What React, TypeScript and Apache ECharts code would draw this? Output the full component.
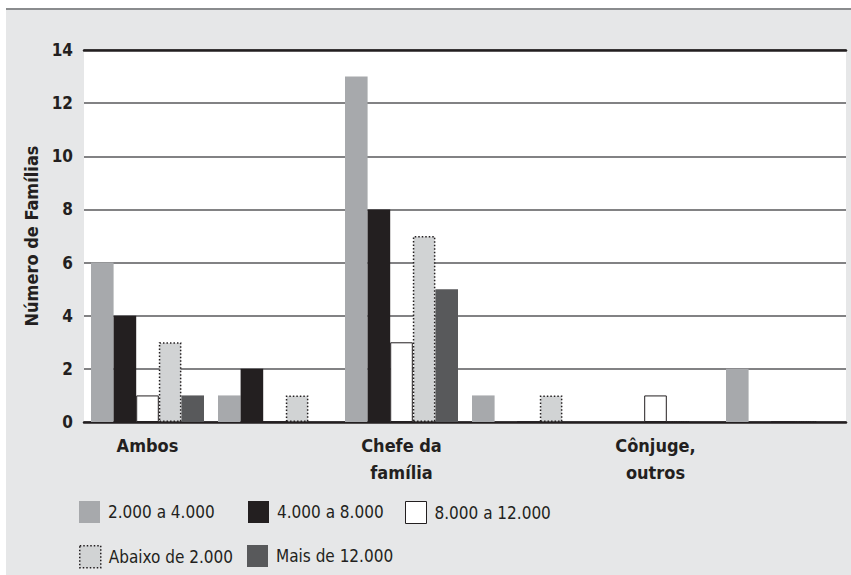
import React, { useEffect, useRef } from "react";
import * as echarts from "echarts";

// Category tick labels (6 slots; every other one unlabeled, as in the source figure)
const categoryLabels = ["Ambos", "", "Chefe da\nfamília", "", "Cônjuge,\noutros", ""];

// Series names
const seriesNames = ["2.000 a 4.000", "4.000 a 8.000", "8.000 a 12.000", "Abaixo de 2.000", "Mais de 12.000"];

// Series values (Número de Famílias)
const v2a4 = [6, 1, 13, 1, 0, 2];
const v4a8 = [4, 2, 8, 0, 0, 0];
const v8a12 = [1, 0, 3, 0, 1, 0];
const vAbaixo2 = [3, 1, 7, 1, 0, 0];
const vMais12 = [1, 0, 5, 0, 0, 0];

const yTicks = { min: 0, max: 14, interval: 2 };

const FONT = "'DejaVu Sans Condensed', 'Liberation Sans', sans-serif";
const INK = "#231f20";

export default function App() {
  const ref = useRef<HTMLDivElement>(null);

  useEffect(() => {
    if (!ref.current) return;
    const chart = echarts.init(ref.current, undefined, { renderer: "svg" });

    const styles: any[] = [
      { color: "#a7a9ac" },
      { color: INK },
      { color: "#ffffff", borderColor: INK, borderWidth: 1 },
      { color: "#d1d3d4", borderColor: INK, borderWidth: 1.5, borderType: [1.5, 2] },
      { color: "#58595b" },
    ];
    const values = [v2a4, v4a8, v8a12, vAbaixo2, vMais12];

    const legendPos = [
      { left: 79, top: 501 },
      { left: 248, top: 501 },
      { left: 405, top: 501 },
      { left: 79, top: 545 },
      { left: 247, top: 545 },
    ];

    chart.setOption({
      animation: false,
      textStyle: { fontFamily: FONT },
      grid: {
        left: 84,
        right: 5,
        top: 50,
        bottom: 153,
        show: true,
        backgroundColor: "#ffffff",
        borderWidth: 0,
      },
      xAxis: [
        {
          type: "category",
          data: categoryLabels,
          axisLine: { show: true, lineStyle: { color: INK, width: 2.5 } },
          axisTick: { show: false },
          axisLabel: {
            interval: 0,
            margin: 10,
            color: INK,
            fontFamily: FONT,
            fontSize: 18,
            fontWeight: "bold",
            lineHeight: 27,
          },
          splitLine: { show: false },
        },
        {
          type: "category",
          data: categoryLabels,
          position: "top",
          axisLine: { show: true, lineStyle: { color: INK, width: 2.5 } },
          axisTick: { show: false },
          axisLabel: { show: false },
        },
      ],
      yAxis: {
        type: "value",
        min: yTicks.min,
        max: yTicks.max,
        interval: yTicks.interval,
        name: "Número de Famílias",
        nameLocation: "middle",
        nameRotate: 90,
        nameGap: 36,
        nameTextStyle: { color: INK, fontFamily: FONT, fontSize: 18, fontWeight: "bold" },
        axisLine: { show: false },
        axisTick: { show: false },
        axisLabel: { color: INK, fontFamily: FONT, fontSize: 17, fontWeight: "bold", margin: 11 },
        splitLine: { show: true, lineStyle: { color: "#58595b", width: 1.5 } },
      },
      legend: legendPos.map((p, i) => ({
        data: [{ name: seriesNames[i], itemStyle: styles[i] }],
        left: p.left,
        top: p.top,
        icon: "rect",
        itemWidth: 21,
        itemHeight: 22,
        selectedMode: false,
        padding: 0,
        textStyle: { color: INK, fontFamily: FONT, fontSize: 17, padding: [0, 0, 0, 3] },
      })),
      series: values.map((vals, i) => ({
        type: "bar",
        name: seriesNames[i],
        data: vals,
        barWidth: 22.6,
        barGap: "0%",
        itemStyle: styles[i],
      })),
    });

    return () => chart.dispose();
  }, []);

  return (
    <div style={{ position: "absolute", left: 0, top: 0, width: 851, height: 575, background: "#ffffff" }}>
      <div
        style={{
          position: "absolute",
          left: 6,
          top: 8,
          width: 845,
          height: 565,
          background: "#e6e7e8",
          borderTop: "2px solid #8a8c8e",
        }}
      />
      <div ref={ref} style={{ position: "absolute", left: 0, top: 0, width: 851, height: 575 }} />
    </div>
  );
}
